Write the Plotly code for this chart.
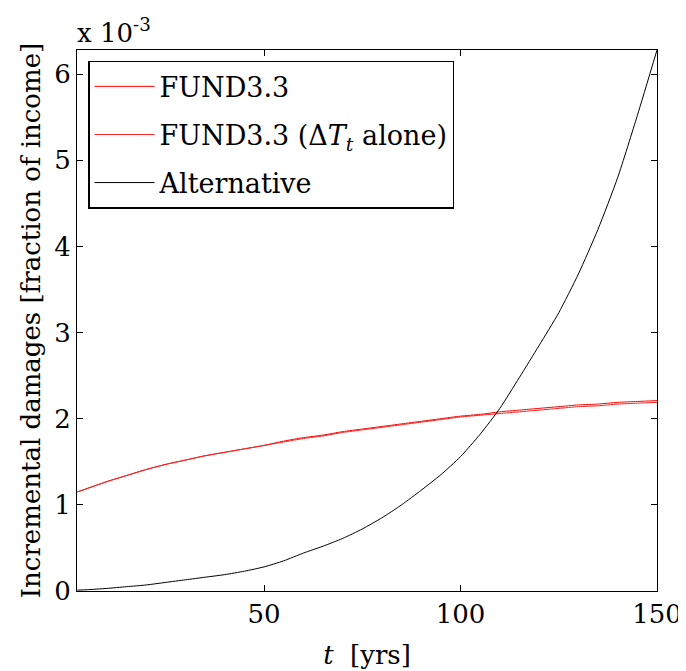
import plotly.graph_objects as go

# time axis [yrs]
t = [2.5, 5, 10, 15, 20, 25, 30, 35, 40, 45, 50, 55, 60, 65, 70, 75, 80, 85, 90,
     95, 100, 105, 110, 115, 120, 125, 130, 135, 140, 145, 150]

# incremental damages, in units of 1e-3 (fraction of income)
fund33 = [1.15, 1.19, 1.27, 1.34, 1.41, 1.47, 1.52, 1.57, 1.61, 1.65, 1.69, 1.74,
          1.78, 1.81, 1.85, 1.88, 1.91, 1.94, 1.97, 2.00, 2.03, 2.05, 2.08, 2.10,
          2.12, 2.14, 2.16, 2.17, 2.19, 2.20, 2.21]
fund33_dT = [1.15, 1.19, 1.27, 1.34, 1.41, 1.47, 1.52, 1.57, 1.61, 1.65, 1.69, 1.73,
             1.77, 1.80, 1.84, 1.87, 1.90, 1.93, 1.96, 1.99, 2.02, 2.04, 2.06, 2.08,
             2.10, 2.12, 2.14, 2.15, 2.17, 2.18, 2.19]
alternative = [0.01, 0.015, 0.03, 0.05, 0.07, 0.10, 0.13, 0.16, 0.19, 0.23, 0.28,
               0.35, 0.44, 0.52, 0.61, 0.72, 0.85, 1.00, 1.17, 1.35, 1.56, 1.82,
               2.12, 2.48, 2.85, 3.23, 3.68, 4.20, 4.80, 5.52, 6.28]

x_ticks = [50, 100, 150]
y_ticks = [0, 1, 2, 3, 4, 5, 6]

FONT = "DejaVu Serif"
FS = 26

fig = go.Figure()
fig.add_trace(go.Scatter(x=t, y=fund33, mode="lines", name="FUND3.3",
                         line=dict(color="#ff0000", width=1, shape="spline", smoothing=0.6),
                         legendgroup="a"))
fig.add_trace(go.Scatter(x=t, y=fund33_dT, mode="lines",
                         name="FUND3.3 (Δ<i>T</i><sub><i>t</i></sub> alone)",
                         line=dict(color="#ff2020", width=1, shape="spline", smoothing=0.6),
                         legendgroup="b"))
fig.add_trace(go.Scatter(x=t, y=alternative, mode="lines", name="Alternative",
                         line=dict(color="#000000", width=1, shape="spline", smoothing=0.6),
                         legendgroup="c"))

# the page body adds an 8px margin, so the figure is sized to compensate
fig.update_layout(
    width=678, height=663,
    paper_bgcolor="white", plot_bgcolor="white",
    margin=dict(l=69, r=29, t=42, b=80),
    font=dict(family=FONT, size=FS, color="black"),
    showlegend=True,
    legend=dict(
        x=0.019, y=0.98, xanchor="left", yanchor="top",
        bgcolor="white", bordercolor="black", borderwidth=1.5,
        font=dict(family=FONT, size=27, color="black"),
        traceorder="grouped", tracegroupgap=10,
        itemwidth=60,
    ),
    annotations=[
        dict(text="x 10<sup>-3</sup>", x=0, y=1, xref="paper", yref="paper",
             xanchor="left", yanchor="bottom", showarrow=False, xshift=-2, yshift=0,
             font=dict(family=FONT, size=FS, color="black")),
    ],
)

fig.update_xaxes(
    range=[2.4, 150], tickvals=x_ticks, ticktext=[str(v) for v in x_ticks],
    showline=True, linecolor="black", linewidth=1, mirror="ticks",
    ticks="inside", ticklen=6, tickcolor="black", showgrid=False, zeroline=False,
    title=dict(text="<i>t</i>\u00a0\u00a0[yrs]", standoff=17,
               font=dict(family=FONT, size=FS)),
    automargin=False,
)
fig.update_yaxes(
    range=[0, 6.28], tickvals=y_ticks, ticktext=[str(v) for v in y_ticks],
    showline=True, linecolor="black", linewidth=1, mirror="ticks",
    ticks="inside", ticklen=6, tickcolor="black", showgrid=False, zeroline=False,
    title=dict(text="Incremental damages [fraction of income]", standoff=6,
               font=dict(family=FONT, size=FS)),
    automargin=False,
)

fig.write_html("out.html")
